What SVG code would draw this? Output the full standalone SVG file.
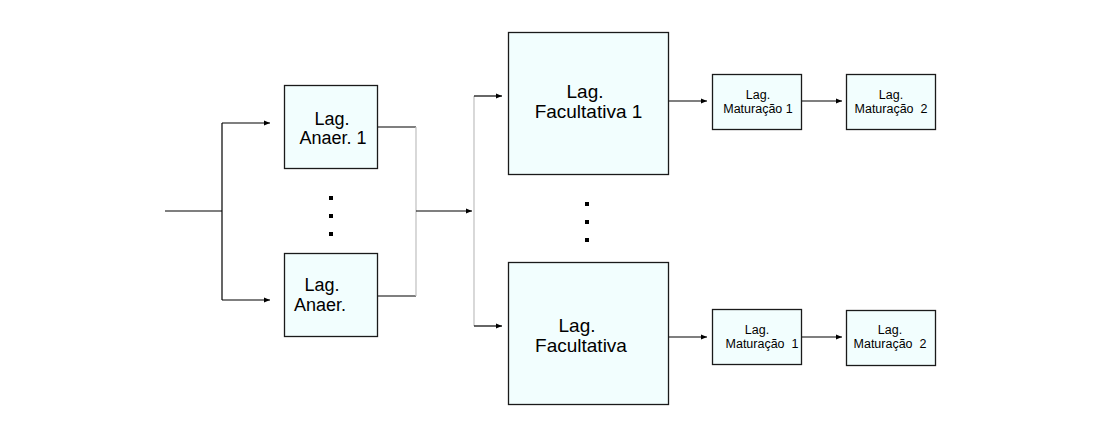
<svg xmlns="http://www.w3.org/2000/svg" width="1100" height="440" viewBox="0 0 1100 440">
<defs>
<marker id="arr" markerWidth="7" markerHeight="6" refX="6" refY="3" orient="auto" markerUnits="userSpaceOnUse">
<path d="M0,0.5 L6,3 L0,5.5 Z" fill="#000"/>
</marker>
<style>
.box{fill:#f2fefe;stroke:#1a1a1a;stroke-width:1.3}
.ln{fill:none;stroke:#000;stroke-width:1.2}
.gr{fill:none;stroke:#c4c4c4;stroke-width:1.3}
.ar{marker-end:url(#arr)}
text{font-family:"Liberation Sans",Arial,sans-serif;fill:#000;text-anchor:middle}
.t1{font-size:18px}
.t2{font-size:19px}
.t3{font-size:12.5px}
.dot{fill:#000}
</style>
</defs>
<rect width="1100" height="440" fill="#fff"/>
<g id="connectors">
<path class="ln" d="M165,211 H222"/>
<path class="ln" d="M222,123 V300"/>
<path class="ln ar" d="M222,123 H270"/>
<path class="ln ar" d="M222,300 H270"/>
<path class="ln" d="M378,127 H416"/>
<path class="ln" d="M378,296 H416"/>
<path class="gr" d="M416,127 V296"/>
<path class="ln ar" d="M416,211 H472"/>
<path class="gr" d="M474,96 V326"/>
<path class="ln ar" d="M474,96 H502"/>
<path class="ln ar" d="M474,326 H502"/>
<path class="ln ar" d="M669,101 H707"/>
<path class="ln ar" d="M802,101 H842"/>
<path class="ln ar" d="M669,337 H707"/>
<path class="ln ar" d="M802,337 H842"/>
</g>
<g id="anaer1">
<rect class="box" x="284.5" y="85.5" width="93" height="83"/>
<text class="t1" x="332" y="124.5">Lag.</text>
<text class="t1" x="333" y="144">Anaer. 1</text>
</g>
<g id="anaer-dots">
<rect class="dot" x="329" y="196" width="4" height="4"/>
<rect class="dot" x="329" y="214" width="4" height="4"/>
<rect class="dot" x="329" y="232" width="4" height="4"/>
</g>
<g id="anaer-n">
<rect class="box" x="284.5" y="253.5" width="93" height="83"/>
<text class="t1" x="322" y="291">Lag.</text>
<text class="t1" x="320" y="310.5">Anaer.</text>
</g>
<g id="facultativa1">
<rect class="box" x="508.5" y="32.5" width="160" height="142"/>
<text class="t2" x="585" y="98">Lag.</text>
<text class="t2" x="588.5" y="118">Facultativa 1</text>
</g>
<g id="fac-dots">
<rect class="dot" x="585" y="202" width="4" height="4"/>
<rect class="dot" x="585" y="220" width="4" height="4"/>
<rect class="dot" x="585" y="238" width="4" height="4"/>
</g>
<g id="facultativa-n">
<rect class="box" x="508.5" y="262.5" width="160" height="142"/>
<text class="t2" x="577" y="331.5">Lag.</text>
<text class="t2" x="581" y="351.5">Facultativa</text>
</g>
<g id="mat1-top">
<rect class="box" x="712.5" y="74.5" width="89" height="55"/>
<text class="t3" x="758" y="98.5">Lag.</text>
<text class="t3" x="758" y="112.5">Maturação 1</text>
</g>
<g id="mat2-top">
<rect class="box" x="846.5" y="74.5" width="89" height="55"/>
<text class="t3" x="891" y="98.5">Lag.</text>
<text class="t3" x="891" y="112.5" xml:space="preserve">Maturação  2</text>
</g>
<g id="mat1-bottom">
<rect class="box" x="712.5" y="309.5" width="89" height="55"/>
<text class="t3" x="757" y="333.5">Lag.</text>
<text class="t3" x="762" y="347.5" xml:space="preserve">Maturação  1</text>
</g>
<g id="mat2-bottom">
<rect class="box" x="846.5" y="310.5" width="89" height="55"/>
<text class="t3" x="890" y="333.5">Lag.</text>
<text class="t3" x="890" y="347.5" xml:space="preserve">Maturação  2</text>
</g>
</svg>
